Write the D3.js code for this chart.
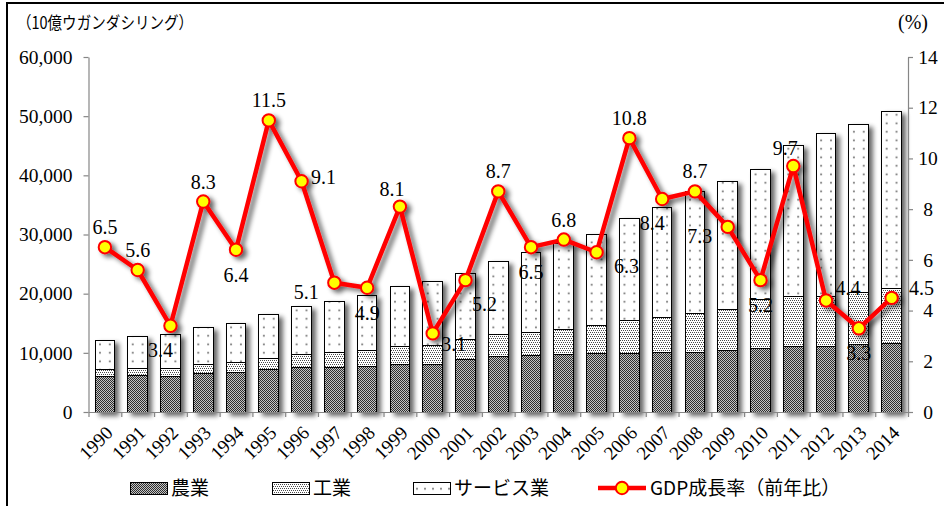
<!DOCTYPE html>
<html>
<head>
<meta charset="utf-8">
<script src="https://cdn.jsdelivr.net/npm/d3@7"></script>
<style>
  body { margin: 0; background: #fff; }
  svg { display: block; }
</style>
</head>
<body>
<svg id="chart" width="944" height="506"></svg>
<script>
// Uganda GDP by sector (billion UGX) and real GDP growth (%)
const years = ["1990","1991","1992","1993","1994","1995","1996","1997","1998","1999",
               "2000","2001","2002","2003","2004","2005","2006","2007","2008","2009",
               "2010","2011","2012","2013","2014"];
const agriculture = [5970, 6200, 6030, 6540, 6760, 7210, 7550, 7550, 7770, 8110,
                     8110, 8790, 9460, 9630, 9750, 9920, 9920, 10030, 10080, 10420,
                     10760, 11040, 11150, 11440, 11600];
const industry = [1130, 1180, 1350, 1520, 1640, 1860, 2200, 2470, 2590, 3040,
                  3210, 3380, 3610, 3890, 4220, 4780, 5570, 5970, 6600, 6940,
                  8170, 8400, 8450, 8840, 9190];
const services = [5020, 5420, 5800, 6140, 6590, 7490, 8110, 8620, 9410, 10030,
                  10820, 11270, 12450, 13470, 14540, 15380, 17240, 18590, 20560, 21680,
                  22090, 25630, 27430, 28280, 30080];
const gdpGrowth = [6.5, 5.6, 3.4, 8.3, 6.4, 11.5, 9.1, 5.1, 4.9, 8.1,
                   3.1, 5.2, 8.7, 6.5, 6.8, 6.3, 10.8, 8.4, 8.7, 7.3,
                   5.2, 9.7, 4.4, 3.3, 4.5];
// where each growth label sits relative to its marker
const labelPlacement = ["t","t","bl","t","b","t","r","l","b","tl",
                        "br","bbr","t","b","t","brr","t","bl","t","l",
                        "b","tl","tr","b","rr"];
const leftTicks = [0, 10000, 20000, 30000, 40000, 50000, 60000];
const rightTicks = [0, 2, 4, 6, 8, 10, 12, 14];
const seriesNames = ["農業", "工業", "サービス業", "GDP成長率（前年比）"];
const unitLeft = "（10億ウガンダシリング）";
const unitRight = "(%)";

const SERIF = '"Liberation Serif", "Times New Roman", serif';
const JP = '"Noto Sans CJK JP", "Noto Sans", sans-serif';

const svg = d3.select("#chart");
const W = 944, H = 506;
const plot = { left: 88.5, right: 908, top: 57, bottom: 412 };

const x = d3.scaleBand().domain(years).range([plot.left, plot.right]).paddingInner(0.4).paddingOuter(0.2);
const xEdge = d3.scaleLinear().domain([0, years.length]).range([plot.left, plot.right]);
const yL = d3.scaleLinear().domain([0, 60000]).range([plot.bottom, plot.top]);
const yR = d3.scaleLinear().domain([0, 14]).range([plot.bottom, plot.top]);

// ---- defs: hatch patterns and shadow ----
const defs = svg.append("defs");

const pAgri = defs.append("pattern").attr("id", "pat-agri")
  .attr("patternUnits", "userSpaceOnUse").attr("width", 2).attr("height", 2);
pAgri.append("rect").attr("width", 2).attr("height", 2).attr("fill", "#c4c4c4");
pAgri.append("rect").attr("width", 1).attr("height", 1).attr("fill", "#2e2e2e");
pAgri.append("rect").attr("x", 1).attr("y", 1).attr("width", 1).attr("height", 1).attr("fill", "#2e2e2e");

const pInd = defs.append("pattern").attr("id", "pat-ind")
  .attr("patternUnits", "userSpaceOnUse").attr("width", 4).attr("height", 4);
pInd.append("rect").attr("width", 4).attr("height", 4).attr("fill", "#fff");
[[0,0],[2,0],[1,2],[3,2]].forEach(([px, py]) =>
  pInd.append("rect").attr("x", px).attr("y", py).attr("width", 1).attr("height", 1).attr("fill", "#4a4a4a"));

function servicePattern(id, x0, w) {
  const p = defs.append("pattern").attr("id", id)
    .attr("patternUnits", "userSpaceOnUse")
    .attr("x", x0).attr("y", 0).attr("width", w / 2).attr("height", 8.5);
  p.append("rect").attr("width", w / 2).attr("height", 8.5).attr("fill", "#fff");
  p.append("rect").attr("x", w / 4 - 0.8).attr("y", 3.5).attr("width", 1.6).attr("height", 1.6).attr("fill", "#555");
}

const shadow = defs.append("filter").attr("id", "shadow")
  .attr("x", "-30%").attr("y", "-10%").attr("width", "180%").attr("height", "130%");
shadow.append("feGaussianBlur").attr("in", "SourceAlpha").attr("stdDeviation", 2.6).attr("result", "blur");
shadow.append("feOffset").attr("in", "blur").attr("dx", 4).attr("dy", 3).attr("result", "off");
shadow.append("feComponentTransfer").attr("in", "off").attr("result", "soft")
  .append("feFuncA").attr("type", "linear").attr("slope", 0.6);
const merge = shadow.append("feMerge");
merge.append("feMergeNode").attr("in", "soft");
merge.append("feMergeNode").attr("in", "SourceGraphic");

// ---- frame ----
svg.append("path")
  .attr("d", `M7,${H + 5} L7,3 L${W + 5},3`)
  .attr("fill", "none").attr("stroke", "#000").attr("stroke-width", 2);

// ---- stacked bars ----
const stackData = years.map((yr, i) => ({ year: yr, agri: agriculture[i], ind: industry[i], svc: services[i] }));
const stacks = d3.stack().keys(["agri", "ind", "svc"])(stackData);

years.forEach((yr, i) => servicePattern("pat-svc-" + i, x(yr), x.bandwidth()));

const barLayer = svg.append("g").attr("filter", "url(#shadow)");
stacks.forEach(layer => {
  barLayer.append("g").selectAll("rect")
    .data(layer)
    .join("rect")
    .attr("x", d => x(d.data.year))
    .attr("width", x.bandwidth())
    .attr("y", d => yL(d[1]))
    .attr("height", d => yL(d[0]) - yL(d[1]))
    .attr("fill", (d, i) => layer.key === "agri" ? "url(#pat-agri)"
                          : layer.key === "ind" ? "url(#pat-ind)"
                          : `url(#pat-svc-${i})`)
    .attr("stroke", "#000").attr("stroke-width", 1)
    .attr("shape-rendering", "crispEdges");
});

// ---- axes ----
function styleAxis(g) {
  g.select(".domain").attr("stroke", "#868686").attr("stroke-width", 1.2);
  g.selectAll(".tick line").attr("stroke", "#868686").attr("stroke-width", 1.2);
  g.selectAll(".tick text").attr("fill", "#000")
    .style("font-family", SERIF).style("font-size", "19.5px");
}

svg.append("g").attr("transform", `translate(${plot.left},0)`)
  .call(d3.axisLeft(yL).tickValues(leftTicks).tickSize(5).tickPadding(11).tickSizeOuter(0)
        .tickFormat(d3.format(",")))
  .call(styleAxis);

const rAxis = svg.append("g").attr("transform", `translate(${plot.right},0)`)
  .call(d3.axisRight(yR).tickValues(rightTicks).tickSize(5).tickSizeOuter(0).tickFormat(d3.format("d")))
  .call(styleAxis);
rAxis.selectAll(".tick text").attr("x", 20).attr("text-anchor", "middle");

// x axis: baseline with ticks between categories
svg.append("g").attr("transform", `translate(0,${plot.bottom})`)
  .call(d3.axisBottom(xEdge).tickValues(d3.range(years.length + 1)).tickSize(5).tickSizeOuter(0).tickFormat(""))
  .call(styleAxis);

const xLabels = svg.append("g").attr("transform", `translate(0,${plot.bottom})`)
  .call(d3.axisBottom(x).tickSize(0).tickPadding(0));
xLabels.select(".domain").remove();
xLabels.selectAll(".tick text")
  .style("font-family", SERIF).style("font-size", "19px").attr("fill", "#000")
  .attr("text-anchor", "end")
  .attr("dy", 0).attr("y", 0)
  .attr("transform", "translate(9,22) rotate(-45)");

// ---- growth line ----
const cx = i => x(years[i]) + x.bandwidth() / 2;
const lineLayer = svg.append("g").attr("filter", "url(#shadow)");
lineLayer.append("path")
  .datum(gdpGrowth)
  .attr("d", d3.line().x((d, i) => cx(i)).y(d => yR(d)))
  .attr("fill", "none").attr("stroke", "#ff0000").attr("stroke-width", 4.5)
  .attr("stroke-linejoin", "round");
lineLayer.selectAll("circle")
  .data(gdpGrowth)
  .join("circle")
  .attr("cx", (d, i) => cx(i)).attr("cy", d => yR(d))
  .attr("r", 6.2)
  .attr("fill", "#ffff00").attr("stroke", "#ff0000").attr("stroke-width", 2);

const offsets = {
  t: [0, -20], b: [0, 25], r: [22, -4], l: [-28, 9], tl: [-8, -18], tr: [22, -12],
  bl: [-10, 24], br: [21, 11], bbr: [19, 24], brr: [30, 14], rr: [30, -10]
};
svg.append("g").selectAll("text")
  .data(gdpGrowth)
  .join("text")
  .attr("x", (d, i) => cx(i) + offsets[labelPlacement[i]][0])
  .attr("y", (d, i) => yR(d) + offsets[labelPlacement[i]][1])
  .attr("dy", "0.35em")
  .attr("text-anchor", "middle")
  .style("font-family", SERIF).style("font-size", "20px").attr("fill", "#000")
  .text(d => d3.format(".1f")(d));

// ---- unit captions ----
svg.append("text").attr("x", 17).attr("y", 29)
  .style("font-family", JP).style("font-size", "17px")
  .attr("textLength", 176).attr("lengthAdjust", "spacingAndGlyphs")
  .text(unitLeft);
svg.append("text").attr("x", 913).attr("y", 22).attr("dy", "0.35em")
  .attr("text-anchor", "middle")
  .style("font-family", SERIF).style("font-size", "20px")
  .text(unitRight);

// ---- legend ----
const legendY = 488;
const legendItems = [
  { name: seriesNames[0], x: 130, fill: "url(#pat-agri)" },
  { name: seriesNames[1], x: 272, fill: "url(#pat-ind)" },
  { name: seriesNames[2], x: 413, fill: "url(#pat-svc-legend)" }
];
servicePattern("pat-svc-legend", 413, 16);
const legend = svg.append("g");
legendItems.forEach(item => {
  legend.append("rect").attr("x", item.x).attr("y", legendY - 6).attr("width", 37).attr("height", 12)
    .attr("fill", item.fill).attr("stroke", "#000").attr("stroke-width", 1)
    .attr("shape-rendering", "crispEdges");
  legend.append("text").attr("x", item.x + 41).attr("y", legendY).attr("dy", "0.36em")
    .style("font-family", JP).style("font-size", "19px").text(item.name);
});
legend.append("line").attr("x1", 598).attr("x2", 646).attr("y1", legendY).attr("y2", legendY)
  .attr("stroke", "#ff0000").attr("stroke-width", 4.5);
legend.append("circle").attr("cx", 622).attr("cy", legendY).attr("r", 6.2)
  .attr("fill", "#ffff00").attr("stroke", "#ff0000").attr("stroke-width", 2);
legend.append("text").attr("x", 650).attr("y", legendY).attr("dy", "0.36em")
  .style("font-family", JP).style("font-size", "19px").text(seriesNames[3]);
</script>
</body>
</html>
